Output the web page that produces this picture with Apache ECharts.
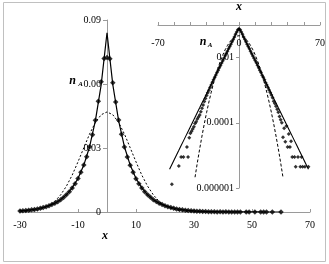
<!DOCTYPE html>
<html>
<head>
<meta charset="utf-8">
<script src="https://cdn.jsdelivr.net/npm/echarts@6/dist/echarts.min.js"></script>
<style>
html,body{margin:0;padding:0;background:#fff;}
#chart{width:329px;height:264px;}
</style>
</head>
<body>
<div id="chart"></div>
<script>
// ---- Data ----
// Theoretical exponential (Laplace) curve, solid line
const lapX = [-60,-58,-56,-54,-52,-50,-48,-46,-44,-42,-40,-38,-36,-34,-32,-30,-28,-26,-24,-22,-20,-18,-16,-14,-12,-10,-8,-6,-4,-2,0,2,4,6,8,10,12,14,16,18,20,22,24,26,28,30,32,34,36,38,40,42,44,46,48,50,52,54,56,58,60];
const lapY = [3.78e-6,5.28e-6,7.36e-6,1.03e-5,1.43e-5,2.0e-5,2.79e-5,3.9e-5,5.44e-5,7.6e-5,1.06e-4,1.48e-4,2.07e-4,2.88e-4,4.02e-4,5.61e-4,7.83e-4,1.09e-3,1.53e-3,2.13e-3,2.97e-3,4.15e-3,5.79e-3,8.08e-3,0.0113,0.0157,0.0220,0.0306,0.0428,0.0597,0.0840,0.0597,0.0428,0.0306,0.0220,0.0157,0.0113,8.08e-3,5.79e-3,4.15e-3,2.97e-3,2.13e-3,1.53e-3,1.09e-3,7.83e-4,5.61e-4,4.02e-4,2.88e-4,2.07e-4,1.48e-4,1.06e-4,7.6e-5,5.44e-5,3.9e-5,2.79e-5,2.0e-5,1.43e-5,1.03e-5,7.36e-6,5.28e-6,3.78e-6];

// Theoretical Gaussian curve, dashed line
const gaussX = [-38,-36,-34,-32,-30,-28,-26,-24,-22,-20,-18,-16,-14,-12,-10,-8,-6,-4,-2,0,2,4,6,8,10,12,14,16,18,20,22,24,26,28,30,32,34,36,38];
const gaussY = [2.14e-6,5.96e-6,1.57e-5,3.92e-5,9.26e-5,2.07e-4,4.36e-4,8.71e-4,1.65e-3,2.95e-3,4.98e-3,7.98e-3,0.0121,0.0173,0.0235,0.0301,0.0366,0.0420,0.0456,0.0469,0.0456,0.0420,0.0366,0.0301,0.0235,0.0173,0.0121,7.98e-3,4.98e-3,2.95e-3,1.65e-3,8.71e-4,4.36e-4,2.07e-4,9.26e-5,3.92e-5,1.57e-5,5.96e-6,2.14e-6];

// Simulation points (diamond markers); only non-zero bins are plotted
const simX = [-58,-52,-50,-48,-45,-44,-43,-42,-41,-40,-39,-38,-37,-36,-35,-34,-33,-32,-31,-30,-29,-28,-27,-26,-25,-24,-23,-22,-21,-20,-19,-18,-17,-16,-15,-14,-13,-12,-11,-10,-9,-8,-7,-6,-5,-4,-3,-2,-1,0,1,2,3,4,5,6,7,8,9,10,11,12,13,14,15,16,17,18,19,20,21,22,23,24,25,26,27,28,29,30,31,32,33,34,35,36,37,38,39,40,41,42,43,44,45,46,48,49,51,53,54,55,57,60];
const simY = [1.3e-6,4.7e-6,9e-6,9e-6,1.8e-5,9e-6,3.5e-5,4.8e-5,5.5e-5,6.5e-5,7.6e-5,9.5e-5,1.07e-4,1.3e-4,1.5e-4,1.74e-4,2.2e-4,2.8e-4,3.5e-4,4.5e-4,5.6e-4,6.9e-4,8.3e-4,1.0e-3,1.2e-3,1.45e-3,1.75e-3,2.1e-3,2.5e-3,2.95e-3,3.5e-3,4.1e-3,4.85e-3,5.75e-3,6.8e-3,8.05e-3,9.5e-3,0.0113,0.0133,0.0157,0.0186,0.0220,0.0259,0.0306,0.0362,0.0430,0.0519,0.0610,0.0720,0.0724,0.0718,0.0606,0.0516,0.0431,0.0364,0.0305,0.0258,0.0219,0.0186,0.0156,0.0132,0.0112,0.0095,0.0081,0.0069,0.0058,0.0049,0.0041,0.0035,0.0029,0.0025,0.0021,0.0017,1.45e-3,1.22e-3,1.02e-3,8.5e-4,7.1e-4,5.9e-4,4.6e-4,3.9e-4,3.2e-4,2.6e-4,2.1e-4,1.55e-4,1.25e-4,1.0e-4,3.6e-5,6.8e-5,2.6e-5,8.0e-5,1.8e-5,4.5e-5,1.8e-5,2.7e-5,9e-6,9e-6,4.5e-6,9e-6,4.5e-6,9e-6,4.5e-6,4.5e-6,4.5e-6];

// Tick labels
const mainXTicks = [-30,-10,10,30,50,70];
const mainYTicks = [0,0.03,0.06,0.09];
const mainYTickLabels = ['0','0.03','0.06','0.09'];
const insetXTickLabels = [-70,0,70];
const insetYTicks = [1e-6,1e-4,1e-2];
const insetYTickLabels = ['0.000001','0.0001','0.01'];

// ---- Chart ----
const pairs = (xs, ys) => xs.map((x, i) => [x, ys[i]]);
const FONT = '"Liberation Serif", "Times New Roman", serif';
const AXIS_GRAY = '#9a9a9a';
const labelStyle = { color: '#000', fontFamily: FONT, fontSize: 10 };
const MAIN_LEFT = 20, INSET_LEFT = 158;

const chart = echarts.init(document.getElementById('chart'), null, { renderer: 'canvas' });

function near(a, b) { return Math.abs(a - b) < 1e-9; }
function nearLog(a, b) { return Math.abs(Math.log10(a) - Math.log10(b)) < 1e-6; }

const option = {
  animation: false,
  backgroundColor: '#fff',
  grid: [
    { left: MAIN_LEFT, right: 19, top: 20, bottom: 52, outerBoundsMode: 'none', containLabel: false },
    { left: INSET_LEFT, right: 9, top: 25, bottom: 76, outerBoundsMode: 'none', containLabel: false }
  ],
  xAxis: [
    {
      gridIndex: 0, type: 'value', min: -30, max: 70, interval: 10, position: 'bottom',
      axisLine: { show: true, onZero: false, lineStyle: { color: AXIS_GRAY, width: 1 } },
      axisTick: { show: true, inside: true, length: 3, customValues: mainXTicks, lineStyle: { color: AXIS_GRAY } },
      axisLabel: Object.assign({ margin: 8, customValues: mainXTicks }, labelStyle),
      splitLine: { show: false }
    },
    {
      gridIndex: 1, type: 'value', min: -70, max: 70, interval: 14, position: 'top',
      name: 'x', nameLocation: 'middle', nameGap: 12,
      nameTextStyle: { fontFamily: FONT, fontSize: 12, fontWeight: 'bold', fontStyle: 'italic', color: '#000' },
      axisLine: { show: true, onZero: false, lineStyle: { color: AXIS_GRAY, width: 1 } },
      axisTick: { show: true, inside: false, length: 3, lineStyle: { color: AXIS_GRAY } },
      axisLabel: Object.assign({
        inside: true, margin: 13,
        formatter: function (v) { return insetXTickLabels.some(t => near(t, v)) ? String(v) : ''; }
      }, labelStyle),
      splitLine: { show: false }
    }
  ],
  yAxis: [
    {
      gridIndex: 0, type: 'value', min: 0, max: 0.09, interval: 0.03, position: 'left',
      axisLine: { show: true, onZero: false, lineStyle: { color: AXIS_GRAY, width: 1 } },
      axisTick: { show: true, inside: false, length: 4, lineStyle: { color: AXIS_GRAY } },
      axisLabel: Object.assign({
        margin: 6,
        formatter: function (v) {
          const i = mainYTicks.findIndex(t => near(t, v));
          return i >= 0 ? mainYTickLabels[i] : '';
        }
      }, labelStyle),
      splitLine: { show: false }
    },
    {
      gridIndex: 1, type: 'log', logBase: 10, min: 1e-6, max: 0.1, interval: 2, position: 'left',
      axisLine: { show: true, onZero: false, lineStyle: { color: AXIS_GRAY, width: 1 } },
      axisTick: { show: true, inside: false, length: 3, lineStyle: { color: AXIS_GRAY } },
      axisLabel: Object.assign({
        margin: 5,
        formatter: function (v) {
          const i = insetYTicks.findIndex(t => nearLog(t, v));
          return i >= 0 ? insetYTickLabels[i] : '';
        }
      }, labelStyle),
      splitLine: { show: false }
    }
  ],
  series: [
    {
      type: 'line', xAxisIndex: 0, yAxisIndex: 0, data: pairs(lapX, lapY), showSymbol: false, symbol: 'none',
      clip: true, lineStyle: { color: '#000', width: 1.2 }, z: 2
    },
    {
      type: 'line', xAxisIndex: 0, yAxisIndex: 0, data: pairs(gaussX, gaussY), showSymbol: false, symbol: 'none',
      clip: true, lineStyle: { color: '#000', width: 1, type: [2, 2] }, z: 2
    },
    {
      type: 'scatter', xAxisIndex: 0, yAxisIndex: 0, data: pairs(simX, simY), symbol: 'diamond', symbolSize: 5.5,
      clip: true, itemStyle: { color: '#000' }, z: 3
    },
    {
      type: 'line', xAxisIndex: 1, yAxisIndex: 1, data: pairs(lapX, lapY), showSymbol: false, symbol: 'none',
      clip: true, lineStyle: { color: '#000', width: 1.1 }, z: 2
    },
    {
      type: 'line', xAxisIndex: 1, yAxisIndex: 1, data: pairs(gaussX, gaussY), showSymbol: false, symbol: 'none',
      clip: true, lineStyle: { color: '#000', width: 1, type: [3, 2] }, z: 2
    },
    {
      type: 'scatter', xAxisIndex: 1, yAxisIndex: 1, data: pairs(simX, simY), symbol: 'diamond', symbolSize: 4,
      clip: true, itemStyle: { color: '#000' }, z: 3
    }
  ],
  graphic: [
    { type: 'rect', shape: { x: 3.5, y: 2.5, width: 322, height: 259 }, style: { fill: 'none', stroke: '#c0c0c0', lineWidth: 1 }, silent: true, z: -1 },
    { type: 'text', x: 105, y: 236, style: { text: 'x', font: 'italic bold 12px ' + FONT, fill: '#000', textAlign: 'center', textVerticalAlign: 'middle', align: 'center', verticalAlign: 'middle' } },
    { type: 'text', x: 72.5, y: 81, style: { text: 'n', font: 'italic bold 12px ' + FONT, fill: '#000', textAlign: 'center', textVerticalAlign: 'middle', align: 'center', verticalAlign: 'middle' } },
    { type: 'text', x: 80.5, y: 84.5, style: { text: 'A', font: 'italic bold 7px ' + FONT, fill: '#000', textAlign: 'center', textVerticalAlign: 'middle', align: 'center', verticalAlign: 'middle' } },
    { type: 'text', x: 203, y: 42, style: { text: 'n', font: 'italic bold 12px ' + FONT, fill: '#000', textAlign: 'center', textVerticalAlign: 'middle', align: 'center', verticalAlign: 'middle' } },
    { type: 'text', x: 210, y: 45, style: { text: 'A', font: 'italic bold 7px ' + FONT, fill: '#000', textAlign: 'center', textVerticalAlign: 'middle', align: 'center', verticalAlign: 'middle' } }
  ]
};
chart.setOption(option);

// Place each y axis (line, ticks and labels) where x = 0, using the library's own x scale.
const zeroMain = chart.convertToPixel({ xAxisIndex: 0 }, 0);
const zeroInset = chart.convertToPixel({ xAxisIndex: 1 }, 0);
chart.setOption({
  yAxis: [
    { offset: MAIN_LEFT - zeroMain },
    { offset: INSET_LEFT - zeroInset }
  ]
});
</script>
</body>
</html>
